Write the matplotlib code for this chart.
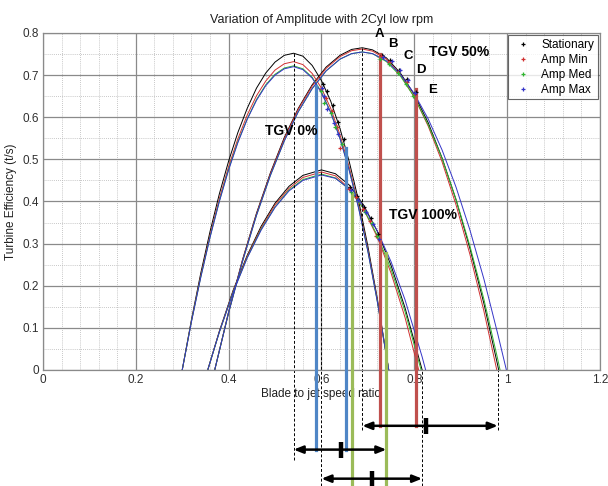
import matplotlib
matplotlib.use("Agg")
import matplotlib.pyplot as plt
from matplotlib.ticker import MultipleLocator

plt.rcParams['font.family'] = ['Liberation Sans', 'DejaVu Sans']

# fitted efficiency curves, TGV 0%
x_tgv0 = [0.30, 0.32, 0.34, 0.36, 0.38, 0.40, 0.42, 0.44, 0.46, 0.48, 0.50, 0.52,
          0.54, 0.56, 0.58, 0.60, 0.62, 0.64, 0.66, 0.68, 0.70, 0.72, 0.745]
st_tgv0 = [0, .120, .230, .329, .418, .496, .564, .621, .669, .705, .731, .747,
           .752, .745, .723, .687, .638, .573, .494, .402, .294, .172, 0]
min_tgv0 = [0, .117, .224, .320, .407, .483, .549, .605, .651, .686, .712, .727,
            .732, .725, .704, .669, .621, .558, .481, .391, .286, .168, 0]
med_tgv0 = [0, .116, .221, .316, .401, .477, .542, .596, .642, .677, .702, .717,
            .722, .715, .695, .660, .612, .550, .474, .386, .282, .165, 0]
max_tgv0 = [0, .115, .220, .315, .400, .475, .540, .595, .640, .675, .700, .715,
            .720, .713, .693, .658, .611, .549, .473, .384, .282, .165, 0]

# TGV 50%
x_tgv50 = [0.37, 0.40, 0.43, 0.46, 0.49, 0.52, 0.55, 0.58, 0.61, 0.64, 0.665, 0.688,
           0.71, 0.74, 0.77, 0.80, 0.83, 0.86, 0.89, 0.92, 0.95, 0.98, 1.00]
st_tgv50 = [0, .138, .262, .372, .468, .552, .621, .677, .719, .747, .761, .765,
            .760, .741, .705, .654, .587, .503, .404, .288, .158, .010, -.096]
min_tgv50 = [0, .137, .261, .370, .466, .549, .619, .674, .716, .744, .758, .762,
             .757, .738, .701, .648, .579, .494, .392, .274, .140, -.011, -.120]
med_tgv50 = [0, .136, .258, .367, .462, .544, .613, .668, .710, .738, .751, .755,
             .751, .732, .698, .648, .582, .502, .405, .294, .168, .025, -.078]
max_tgv50 = [0, .136, .258, .367, .462, .544, .613, .668, .710, .738, .751, .755,
             .751, .734, .702, .656, .596, .522, .434, .332, .216, .085, -.007]

# TGV 100%
x_tgv100 = [0.355, 0.38, 0.41, 0.44, 0.47, 0.50, 0.53, 0.56, 0.60,
            0.63, 0.66, 0.69, 0.72, 0.75, 0.78, 0.817, 0.84]
st_tgv100 = [0, .092, .190, .272, .341, .396, .436, .462, .475,
             .466, .439, .393, .330, .248, .148, 0, -.106]
min_tgv100 = [0, .091, .188, .270, .337, .392, .431, .457, .470,
              .461, .431, .384, .316, .230, .125, -.032, -.144]
med_tgv100 = [0, .090, .186, .267, .334, .387, .427, .452, .465,
              .456, .429, .384, .320, .239, .139, -.009, -.114]
max_tgv100 = [0, .090, .185, .266, .332, .386, .425, .450, .463,
              .455, .430, .389, .331, .257, .167, .031, -.064]

# measured points (+)
pts_x_tgv0 = {
    'st': [0.604, 0.612, 0.624, 0.636, 0.649],
    'min': [0.600, 0.610, 0.622, 0.634, 0.640],
    'med': [0.598, 0.606, 0.620, 0.630, 0.644],
    'max': [0.602, 0.605, 0.613, 0.628, 0.636],
}
pts_y_tgv0 = {
    'st': [0.680, 0.662, 0.628, 0.588, 0.548],
    'min': [0.668, 0.646, 0.614, 0.577, 0.528],
    'med': [0.662, 0.634, 0.611, 0.578, 0.536],
    'max': [0.670, 0.650, 0.620, 0.586, 0.560],
}
pts_x_tgv50 = {
    'st': [0.730, 0.748, 0.768, 0.785, 0.803],
    'min': [0.728, 0.746, 0.766, 0.784, 0.800],
    'med': [0.727, 0.745, 0.764, 0.782, 0.798],
    'max': [0.732, 0.752, 0.770, 0.787, 0.802],
}
pts_y_tgv50 = {
    'st': [0.748, 0.735, 0.712, 0.690, 0.660],
    'min': [0.745, 0.730, 0.708, 0.684, 0.652],
    'med': [0.738, 0.727, 0.704, 0.680, 0.650],
    'max': [0.742, 0.733, 0.711, 0.688, 0.658],
}
pts_x_tgv100 = {
    'st': [0.662, 0.676, 0.692, 0.706, 0.722],
    'min': [0.660, 0.674, 0.690, 0.704, 0.718],
    'med': [0.664, 0.678, 0.694, 0.708, 0.720],
    'max': [0.663, 0.679, 0.696, 0.710, 0.724],
}
pts_y_tgv100 = {
    'st': [0.434, 0.414, 0.388, 0.360, 0.324],
    'min': [0.430, 0.410, 0.382, 0.354, 0.318],
    'med': [0.422, 0.404, 0.376, 0.350, 0.318],
    'max': [0.428, 0.404, 0.374, 0.346, 0.310],
}

series = ['st', 'min', 'med', 'max']
labels = ['Stationary', 'Amp Min', 'Amp Med', 'Amp Max']
colors = ['#000000', '#d03030', '#2fb52f', '#3434c8']

# operating ranges: (x, top of line)
blue_lines = [(0.589, 0.674), (0.652, 0.527)]
red_lines = [(0.727, 0.749), (0.804, 0.667)]
green_lines = [(0.665, 0.418), (0.740, 0.278)]

# dashed guides: (x, top, bottom)
guides = [(0.54, 0.752, -0.213), (0.60, 0.475, -0.275), (0.688, 0.765, -0.142),
          (0.817, 0.0, -0.275), (0.98, 0.0, -0.142)]

# arrows: (y, x start, x end, x of tick)
arrows = [(-0.1325, 0.688, 0.98, 0.826),
          (-0.189, 0.54, 0.74, 0.643),
          (-0.258, 0.60, 0.817, 0.708)]

fig = plt.figure(figsize=(6.08, 4.86), dpi=100)
ax = fig.add_axes([0.0707, 0.2387, 0.916, 0.6934])

curves = {
    'st': [(x_tgv0, st_tgv0), (x_tgv50, st_tgv50), (x_tgv100, st_tgv100)],
    'min': [(x_tgv0, min_tgv0), (x_tgv50, min_tgv50), (x_tgv100, min_tgv100)],
    'med': [(x_tgv0, med_tgv0), (x_tgv50, med_tgv50), (x_tgv100, med_tgv100)],
    'max': [(x_tgv0, max_tgv0), (x_tgv50, max_tgv50), (x_tgv100, max_tgv100)],
}
for s, c in zip(series, colors):
    for xs, ys in curves[s]:
        ax.plot(xs, ys, color=c, lw=0.7, zorder=2)

for x, top in blue_lines:
    ax.plot([x, x], [-0.189, top], color='#4f86c6', lw=2.3, zorder=3, clip_on=False)
for x, top in red_lines:
    ax.plot([x, x], [-0.1325, top], color='#c0504d', lw=2.3, zorder=3, clip_on=False)
for x, top in green_lines:
    ax.plot([x, x], [-0.28, top], color='#9bbb59', lw=2.3, zorder=3, clip_on=False)

for x, top, bot in guides:
    ax.plot([x, x], [bot, top], color='black', lw=0.7, ls=(0, (3, 2)),
            zorder=2.5, clip_on=False)

for s, lab, c in zip(series, labels, colors):
    ax.plot(pts_x_tgv0[s], pts_y_tgv0[s], '+', color=c, ms=3.5, mew=0.9, zorder=5,
            label=lab)
    ax.plot(pts_x_tgv50[s], pts_y_tgv50[s], '+', color=c, ms=3.5, mew=0.9, zorder=5)
    ax.plot(pts_x_tgv100[s], pts_y_tgv100[s], '+', color=c, ms=3.5, mew=0.9, zorder=5)

for y, x0, x1, xt in arrows:
    ax.annotate('', xy=(x1, y), xytext=(x0, y), annotation_clip=False,
                arrowprops=dict(arrowstyle='<|-|>,head_length=0.55,head_width=0.22',
                                color='black', lw=1.8, shrinkA=0, shrinkB=0))
    ax.plot([xt, xt], [y - 0.019, y + 0.019], color='black', lw=3.2,
            clip_on=False, solid_capstyle='butt')

bold_narrow = ['Liberation Sans Narrow', 'Liberation Sans', 'DejaVu Sans']
for txt, x, y in [('A', 0.725, 0.797), ('B', 0.754, 0.775), ('C', 0.786, 0.745),
                  ('D', 0.814, 0.713), ('E', 0.840, 0.665)]:
    ax.text(x, y, txt, fontsize=9.5, fontweight='bold', family=bold_narrow,
            ha='center', va='center', zorder=6)
ax.text(0.897, 0.755, 'TGV 50%', fontsize=10, fontweight='bold', family=bold_narrow,
        ha='center', va='center', zorder=6)
ax.text(0.535, 0.568, 'TGV 0%', fontsize=10, fontweight='bold', family=bold_narrow,
        ha='center', va='center', zorder=6)
ax.text(0.819, 0.367, 'TGV 100%', fontsize=10, fontweight='bold', family=bold_narrow,
        ha='center', va='center', zorder=6)

ax.set_xlim(0, 1.2)
ax.set_ylim(0, 0.8)
ax.xaxis.set_major_locator(MultipleLocator(0.2))
ax.xaxis.set_minor_locator(MultipleLocator(0.04))
ax.yaxis.set_major_locator(MultipleLocator(0.1))
ax.yaxis.set_minor_locator(MultipleLocator(0.05))
ax.set_xticks([0, 0.2, 0.4, 0.6, 0.8, 1.0, 1.2])
ax.set_xticklabels(['0', '0.2', '0.4', '0.6', '0.8', '1', '1.2'])
ax.set_yticks([0, 0.1, 0.2, 0.3, 0.4, 0.5, 0.6, 0.7, 0.8])
ax.set_yticklabels(['0', '0.1', '0.2', '0.3', '0.4', '0.5', '0.6', '0.7', '0.8'])
ax.grid(True, which='major', color='#8a8a8a', lw=0.9, ls='-')
ax.grid(True, which='minor', color='#b5b5b5', lw=0.6, ls=(0, (1, 1.5)))
ax.set_axisbelow(True)
ax.tick_params(which='both', length=0, labelsize=8.5, colors='#303030', pad=3)
for sp in ax.spines.values():
    sp.set_color('#8a8a8a')
    sp.set_linewidth(0.9)

ax.set_title('Variation of Amplitude with 2Cyl low rpm', fontsize=9, pad=7,
             color='#202020')
ax.set_xlabel('Blade to jet speed ratio', fontsize=8.5, labelpad=1, color='#202020')
ax.set_ylabel('Turbine Efficiency (t/s)', fontsize=8.5, labelpad=4, color='#202020')

leg = ax.legend(loc='upper right', fontsize=8.5, frameon=True, fancybox=False,
                borderaxespad=0.2, handlelength=2.0, handletextpad=0.5,
                labelspacing=0.25, borderpad=0.3)
leg.get_frame().set_edgecolor('#404040')
leg.get_frame().set_linewidth(0.8)

fig.savefig('out.png', dpi=100)
